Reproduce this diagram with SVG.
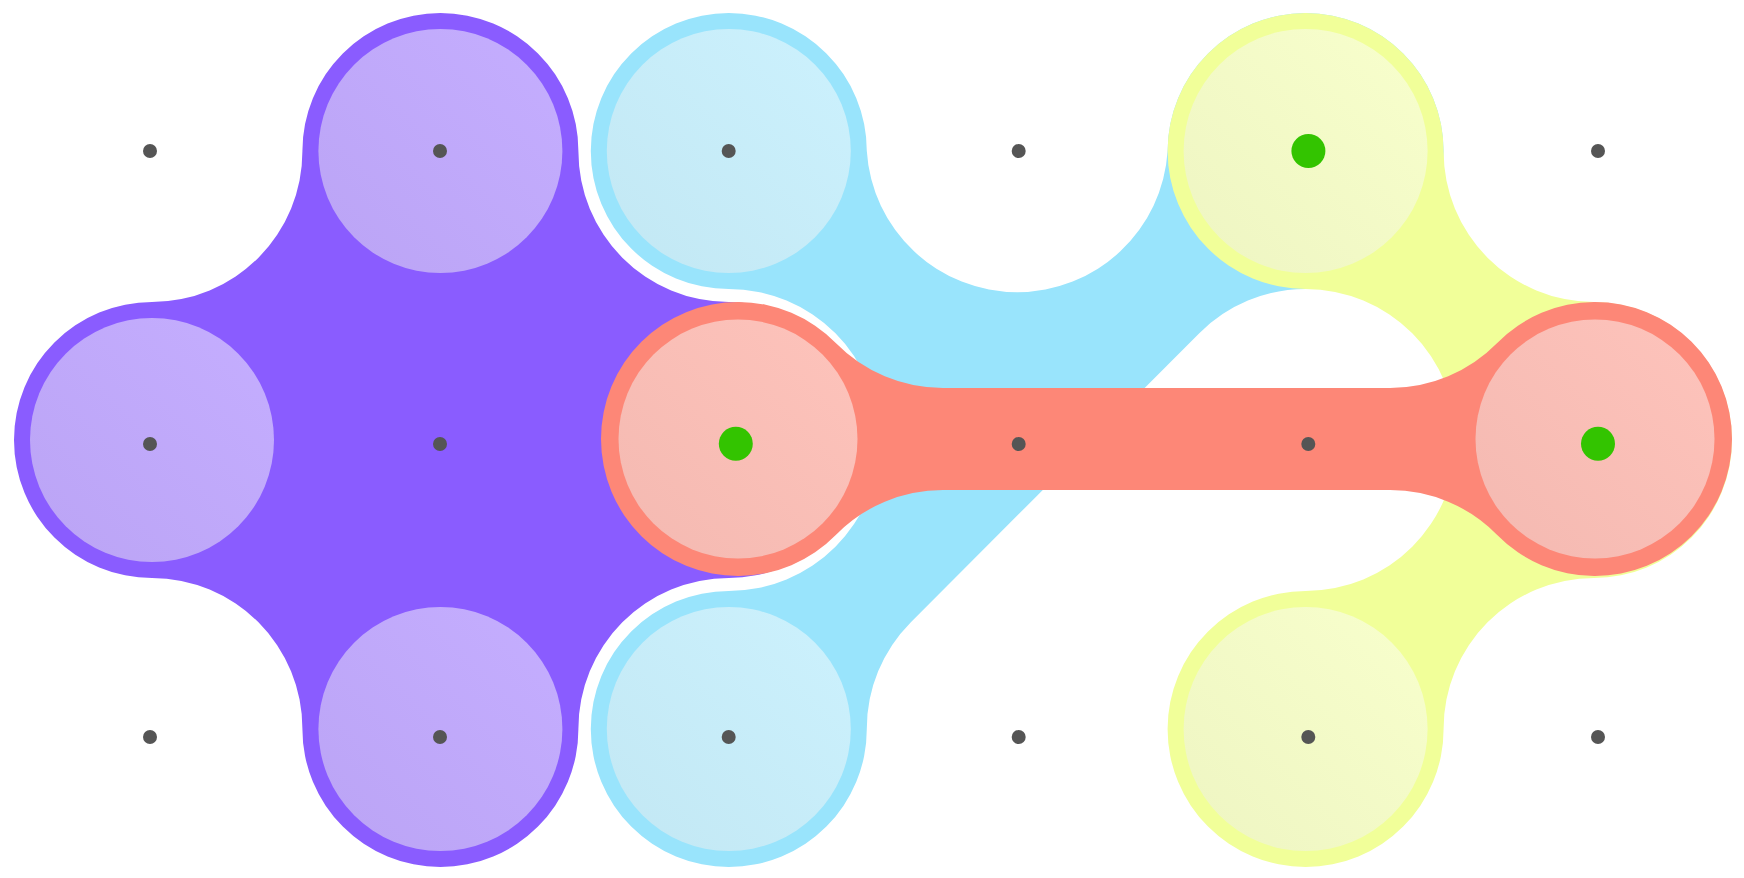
<svg xmlns="http://www.w3.org/2000/svg" width="1744" height="878" viewBox="0 0 1744 878">
<style>
.purple{fill:#8a5cff}
.blue{fill:#99e4fc}
.yellow{fill:#f1ff99}
.red{fill:#fd8777}
.inner{fill:url(#shine);fill-opacity:0.5}
.dot{fill:#555555}
.sel{fill:#33c400}
</style>
<defs>
<linearGradient id="shine" x1="0" y1="1" x2="1" y2="0">
<stop offset="0" stop-color="#ebebeb"/>
<stop offset="1" stop-color="#ffffff"/>
</linearGradient>
</defs>
<rect width="1744" height="878" fill="#ffffff"/>
<g id="connectors">
<path id="set-purple" class="purple" d="M152 302 A150.7 150.7 0 0 0 302.4 151 A138 138 0 0 1 578.4 151 A150.7 150.7 0 0 0 728.8 302 A138 138 0 0 1 728.8 578 A150.7 150.7 0 0 0 578.4 729 A138 138 0 0 1 302.4 729 A150.7 150.7 0 0 0 152 578 A138 138 0 0 1 152 302 Z"/>
<path id="set-blue" class="blue" d="M728.8 13 A138 138 0 0 1 866.8 151 A150.7 150.7 0 0 0 1167.6 151 A138 138 0 1 1 1305.6 289 A150.7 150.7 0 0 0 1199.04 333.44 L910.64 622.44 A150.7 150.7 0 0 0 866.8 729 A138 138 0 1 1 728.8 591 A150.7 150.7 0 0 0 879.5 440 A150.7 150.7 0 0 0 728.8 289 A138 138 0 0 1 590.8 151 A138 138 0 0 1 728.8 13 Z"/>
<path id="set-yellow" class="yellow" d="M1305.6 13 A138 138 0 0 1 1443.6 151 A150.7 150.7 0 0 0 1594 302 A138 138 0 0 1 1594 578 A150.7 150.7 0 0 0 1443.6 729 A138 138 0 1 1 1305.6 591 A150.7 150.7 0 0 0 1456.3 440 A150.7 150.7 0 0 0 1305.6 289 A138 138 0 0 1 1167.6 151 A138 138 0 0 1 1305.6 13 Z"/>
<path id="set-red" class="red" d="M835.79 343.05 A150 150 0 0 0 942.86 388 L1390.14 388 A150 150 0 0 0 1497.21 343.05 A137 137 0 1 1 1497.21 534.95 A150 150 0 0 0 1390.14 490 L942.86 490 A150 150 0 0 0 835.79 534.95 A137 137 0 1 1 835.79 343.05 Z"/>
</g>
<g id="node-purple-left"><circle class="inner" cx="152" cy="440" r="122"/></g>
<g id="node-purple-top"><circle class="inner" cx="440.4" cy="151" r="122"/></g>
<g id="node-purple-bottom"><circle class="inner" cx="440.4" cy="729" r="122"/></g>
<g id="node-blue-top"><circle class="inner" cx="728.8" cy="151" r="122"/></g>
<g id="node-blue-bottom"><circle class="inner" cx="728.8" cy="729" r="122"/></g>
<g id="node-yellow-top"><circle class="inner" cx="1305.6" cy="151" r="122"/></g>
<g id="node-yellow-bottom"><circle class="inner" cx="1305.6" cy="729" r="122"/></g>
<g id="node-red-left"><circle class="inner" cx="738" cy="439" r="119.5"/></g>
<g id="node-red-right"><circle class="inner" cx="1595" cy="439" r="119.5"/></g>
<g id="grid-dots">
<circle class="dot" cx="150" cy="151" r="7"/>
<circle class="dot" cx="440" cy="151" r="7"/>
<circle class="dot" cx="728.7" cy="151" r="7"/>
<circle class="dot" cx="1018.7" cy="151" r="7"/>
<circle class="dot" cx="1598" cy="151" r="7"/>
<circle class="dot" cx="150" cy="444" r="7"/>
<circle class="dot" cx="440" cy="444" r="7"/>
<circle class="dot" cx="1018.7" cy="444" r="7"/>
<circle class="dot" cx="1308.3" cy="444" r="7"/>
<circle class="dot" cx="150" cy="737" r="7"/>
<circle class="dot" cx="440" cy="737" r="7"/>
<circle class="dot" cx="728.7" cy="737" r="7"/>
<circle class="dot" cx="1018.7" cy="737" r="7"/>
<circle class="dot" cx="1308.3" cy="737" r="7"/>
<circle class="dot" cx="1598" cy="737" r="7"/>
</g>
<g id="selected-dots">
<circle class="sel" cx="1308.4" cy="151" r="17"/>
<circle class="sel" cx="735.8" cy="443.8" r="17"/>
<circle class="sel" cx="1598" cy="443.8" r="17"/>
</g>
</svg>
